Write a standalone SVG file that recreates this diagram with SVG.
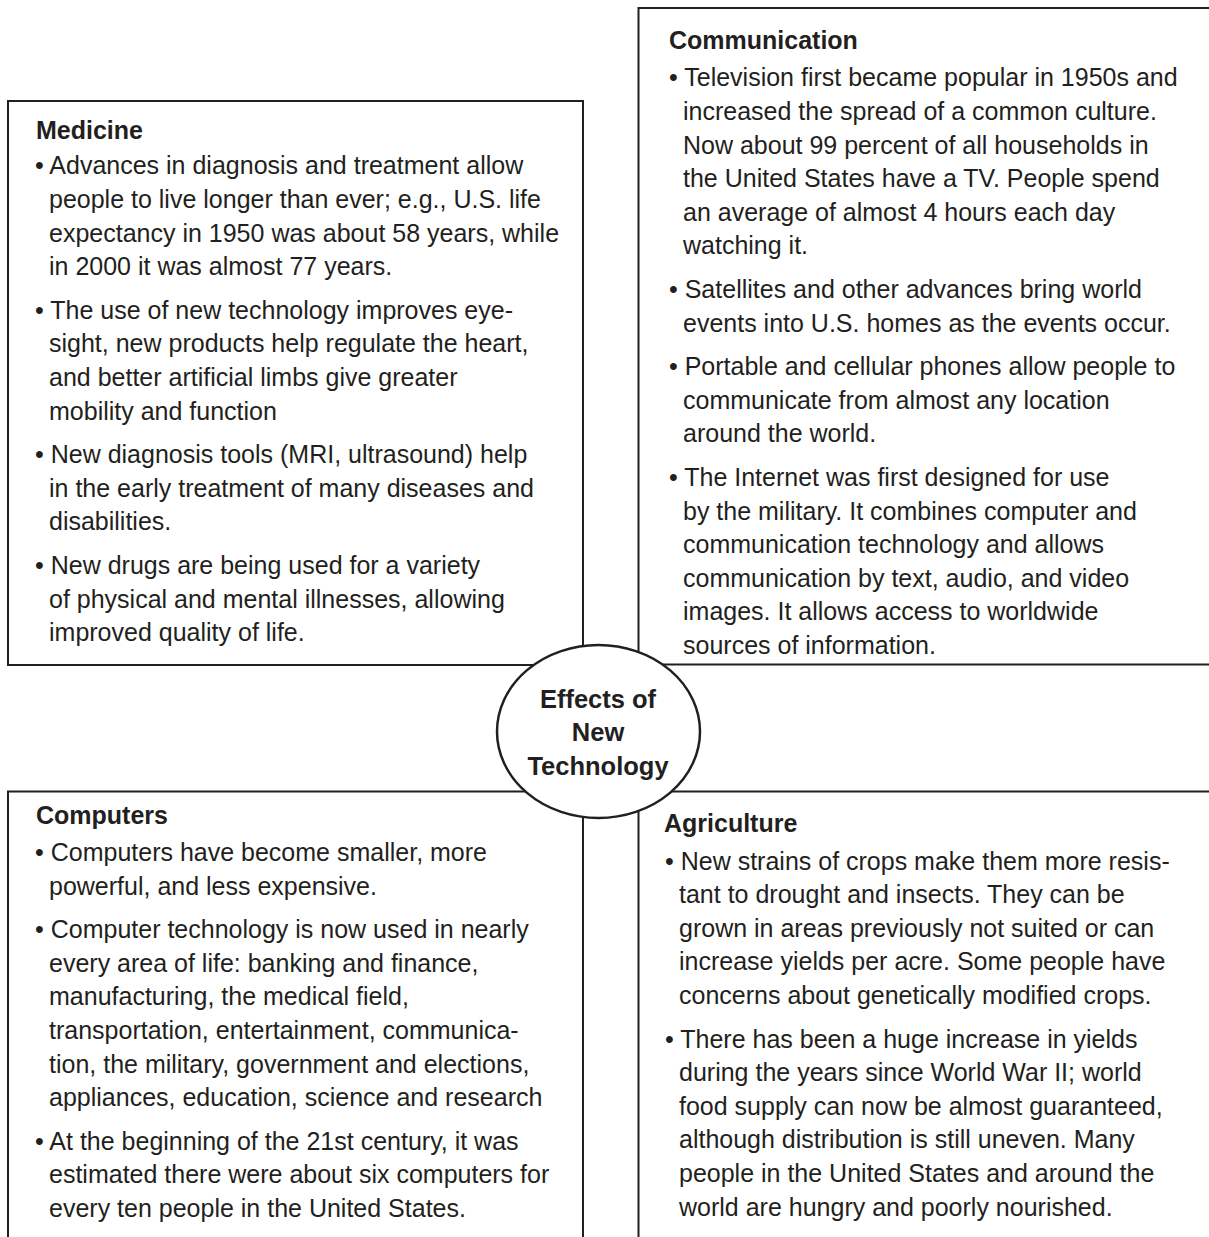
<svg xmlns="http://www.w3.org/2000/svg" width="1209" height="1237" viewBox="0 0 1209 1237">
<style>
text{font-family:"Liberation Sans",Arial,sans-serif;fill:#231f20;font-size:25px}
.t{font-weight:bold}
.c{font-weight:bold;font-size:25.5px;text-anchor:middle}
.box{fill:none;stroke:#231f20;stroke-width:2}
</style>
<rect width="1209" height="1237" fill="#fff"/>
<g id="medicine">
<rect class="box" x="8" y="101" width="575" height="564"/>
<text class="t" x="36" y="138.7">Medicine</text>
<text x="35" y="174.3">• Advances in diagnosis and treatment allow</text>
<text x="49" y="207.9">people to live longer than ever; e.g., U.S. life</text>
<text x="49" y="241.5">expectancy in 1950 was about 58 years, while</text>
<text x="49" y="275.1">in 2000 it was almost 77 years.</text>
<text x="35" y="318.7">• The use of new technology improves eye-</text>
<text x="49" y="352.3">sight, new products help regulate the heart,</text>
<text x="49" y="385.9">and better artificial limbs give greater</text>
<text x="49" y="419.5">mobility and function</text>
<text x="35" y="463.1">• New diagnosis tools (MRI, ultrasound) help</text>
<text x="49" y="496.7">in the early treatment of many diseases and</text>
<text x="49" y="530.3">disabilities.</text>
<text x="35" y="573.9">• New drugs are being used for a variety</text>
<text x="49" y="607.5">of physical and mental illnesses, allowing</text>
<text x="49" y="641.1">improved quality of life.</text>
</g>
<g id="communication">
<path class="box" d="M1212,8 H638.5 V664.5 H1212"/>
<text class="t" x="669" y="48.7">Communication</text>
<text x="669" y="86.3">• Television first became popular in 1950s and</text>
<text x="683" y="119.9">increased the spread of a common culture.</text>
<text x="683" y="153.5">Now about 99 percent of all households in</text>
<text x="683" y="187.1">the United States have a TV. People spend</text>
<text x="683" y="220.7">an average of almost 4 hours each day</text>
<text x="683" y="254.3">watching it.</text>
<text x="669" y="297.9">• Satellites and other advances bring world</text>
<text x="683" y="331.5">events into U.S. homes as the events occur.</text>
<text x="669" y="375.1">• Portable and cellular phones allow people to</text>
<text x="683" y="408.7">communicate from almost any location</text>
<text x="683" y="442.3">around the world.</text>
<text x="669" y="485.9">• The Internet was first designed for use</text>
<text x="683" y="519.5">by the military. It combines computer and</text>
<text x="683" y="553.1">communication technology and allows</text>
<text x="683" y="586.7">communication by text, audio, and video</text>
<text x="683" y="620.3">images. It allows access to worldwide</text>
<text x="683" y="653.9">sources of information.</text>
</g>
<g id="computers">
<path class="box" d="M8,1240 V791.5 H583 V1240"/>
<text class="t" x="36" y="824">Computers</text>
<text x="35" y="861">• Computers have become smaller, more</text>
<text x="49" y="894.6">powerful, and less expensive.</text>
<text x="35" y="938.2">• Computer technology is now used in nearly</text>
<text x="49" y="971.8">every area of life: banking and finance,</text>
<text x="49" y="1005.4">manufacturing, the medical field,</text>
<text x="49" y="1039">transportation, entertainment, communica-</text>
<text x="49" y="1072.6">tion, the military, government and elections,</text>
<text x="49" y="1106.2">appliances, education, science and research</text>
<text x="35" y="1149.8">• At the beginning of the 21st century, it was</text>
<text x="49" y="1183.4">estimated there were about six computers for</text>
<text x="49" y="1217">every ten people in the United States.</text>
</g>
<g id="agriculture">
<path class="box" d="M1212,791.5 H638.5 V1240"/>
<text class="t" x="664" y="832">Agriculture</text>
<text x="665" y="869.6">• New strains of crops make them more resis-</text>
<text x="679" y="903.2">tant to drought and insects. They can be</text>
<text x="679" y="936.8">grown in areas previously not suited or can</text>
<text x="679" y="970.4">increase yields per acre. Some people have</text>
<text x="679" y="1004">concerns about genetically modified crops.</text>
<text x="665" y="1047.6">• There has been a huge increase in yields</text>
<text x="679" y="1081.2">during the years since World War II; world</text>
<text x="679" y="1114.8">food supply can now be almost guaranteed,</text>
<text x="679" y="1148.4">although distribution is still uneven. Many</text>
<text x="679" y="1182">people in the United States and around the</text>
<text x="679" y="1215.6">world are hungry and poorly nourished.</text>
</g>
<g id="center">
<ellipse cx="598.5" cy="731.5" rx="101.5" ry="86.5" fill="#fff" stroke="#231f20" stroke-width="2.5"/>
<text class="c" x="598" y="707.7">Effects of</text>
<text class="c" x="598" y="741">New</text>
<text class="c" x="598" y="775">Technology</text>
</g>
<g id="connectors"></g>
</svg>
